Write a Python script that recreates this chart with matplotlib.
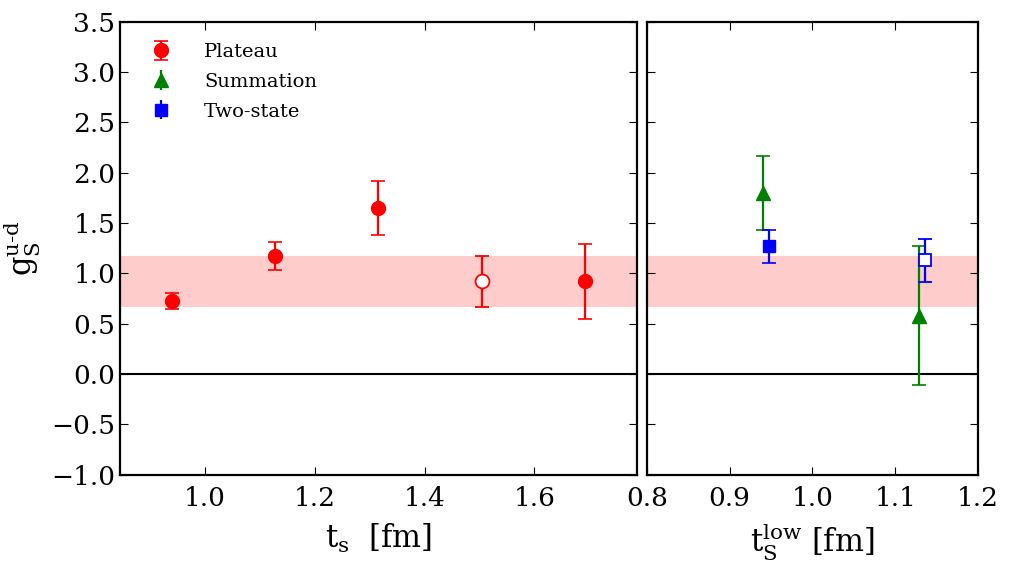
import matplotlib
matplotlib.use("Agg")
import matplotlib.pyplot as plt

# Plateau fits vs source-sink separation
ts_plat = [0.94, 1.128, 1.316, 1.504, 1.692]
g_plat = [0.73, 1.17, 1.65, 0.92, 0.92]
err_plat = [0.08, 0.14, 0.27, 0.25, 0.37]
open_idx = 3  # the point used for the final band

# Summation and two-state fits vs lowest t_s
tlow_sum = [0.94, 1.128]
g_sum = [1.80, 0.58]
err_sum = [0.37, 0.69]

tlow_2st = [0.948, 1.136]
g_2st = [1.27, 1.13]
err_2st = [0.165, 0.215]
open_2st = 1

# final estimate band
band_val = 0.92
band_err = 0.255

plt.rcParams['font.family'] = ['DejaVu Serif']
plt.rcParams['mathtext.fontset'] = 'dejavuserif'
plt.rcParams['xtick.direction'] = 'in'
plt.rcParams['ytick.direction'] = 'in'
plt.rcParams['xtick.top'] = True
plt.rcParams['ytick.right'] = True
plt.rcParams['xtick.major.size'] = 6
plt.rcParams['ytick.major.size'] = 6
plt.rcParams['axes.linewidth'] = 1.6

fig, (ax1, ax2) = plt.subplots(1, 2, figsize=(10.2, 5.74), dpi=100, sharey=True,
                               gridspec_kw={'width_ratios': [517, 332]})
fig.subplots_adjust(left=0.118, right=0.959, top=0.962, bottom=0.173, wspace=0.024)

eb = dict(capsize=5, elinewidth=1.6, capthick=1.2, ls='none')

for ax in (ax1, ax2):
    ax.axhspan(band_val - band_err, band_val + band_err, color='r', alpha=0.2, lw=0)
    ax.axhline(0.0, color='k', lw=1.5)

# left panel
filled = [i for i in range(len(ts_plat)) if i != open_idx]
ax1.errorbar([ts_plat[i] for i in filled], [g_plat[i] for i in filled],
             yerr=[err_plat[i] for i in filled], fmt='o', color='r', mec='r',
             ms=10, label='Plateau', **eb)
ax1.errorbar([ts_plat[open_idx]], [g_plat[open_idx]], yerr=[err_plat[open_idx]],
             fmt='o', color='r', mec='r', mfc='white', mew=1.3, ms=10, **eb)
# dummy entries for the legend
ax1.errorbar([], [], yerr=[], fmt='^', color='g', mec='g', ms=10, label='Summation', **eb)
ax1.errorbar([], [], yerr=[], fmt='s', color='b', mec='b', ms=9, label='Two-state', **eb)

ax1.set_xlim(0.846, 1.786)
ax1.set_ylim(-1.0, 3.5)
ax1.set_xticks([1.0, 1.2, 1.4, 1.6])
ax1.set_yticks([-1.0, -0.5, 0.0, 0.5, 1.0, 1.5, 2.0, 2.5, 3.0, 3.5])
ax1.set_yticklabels(['\u22121.0', '\u22120.5', '0.0', '0.5', '1.0', '1.5',
                     '2.0', '2.5', '3.0', '3.5'])
ax1.set_xlabel(r'$\mathrm{t_s}$  [fm]', fontsize=22, labelpad=8)
ax1.set_ylabel(r'$\mathrm{g_S^{u\text{-}d}}$', fontsize=22, labelpad=6)
ax1.legend(loc='upper left', frameon=False, numpoints=1, fontsize=14,
           handletextpad=1.2, borderaxespad=0.7, labelspacing=0.6)

# right panel
ax2.errorbar(tlow_sum, g_sum, yerr=err_sum, fmt='^', color='g', mec='g', ms=10, **eb)
filled2 = [i for i in range(len(tlow_2st)) if i != open_2st]
ax2.errorbar([tlow_2st[i] for i in filled2], [g_2st[i] for i in filled2],
             yerr=[err_2st[i] for i in filled2], fmt='s', color='b', mec='b', ms=9, **eb)
ax2.errorbar([tlow_2st[open_2st]], [g_2st[open_2st]], yerr=[err_2st[open_2st]],
             fmt='s', color='b', mec='b', mfc='white', mew=1.3, ms=9, **eb)
ax2.set_xlim(0.8, 1.2)
ax2.set_xticks([0.8, 0.9, 1.0, 1.1, 1.2])
ax2.set_xlabel(r'$\mathrm{t_S^{low}}$ [fm]', fontsize=22, labelpad=8)
ax2.tick_params(labelleft=False)

for ax in (ax1, ax2):
    ax.tick_params(labelsize=19)
    ax.tick_params(axis='x', pad=8)

fig.savefig('out.png', dpi=100)
